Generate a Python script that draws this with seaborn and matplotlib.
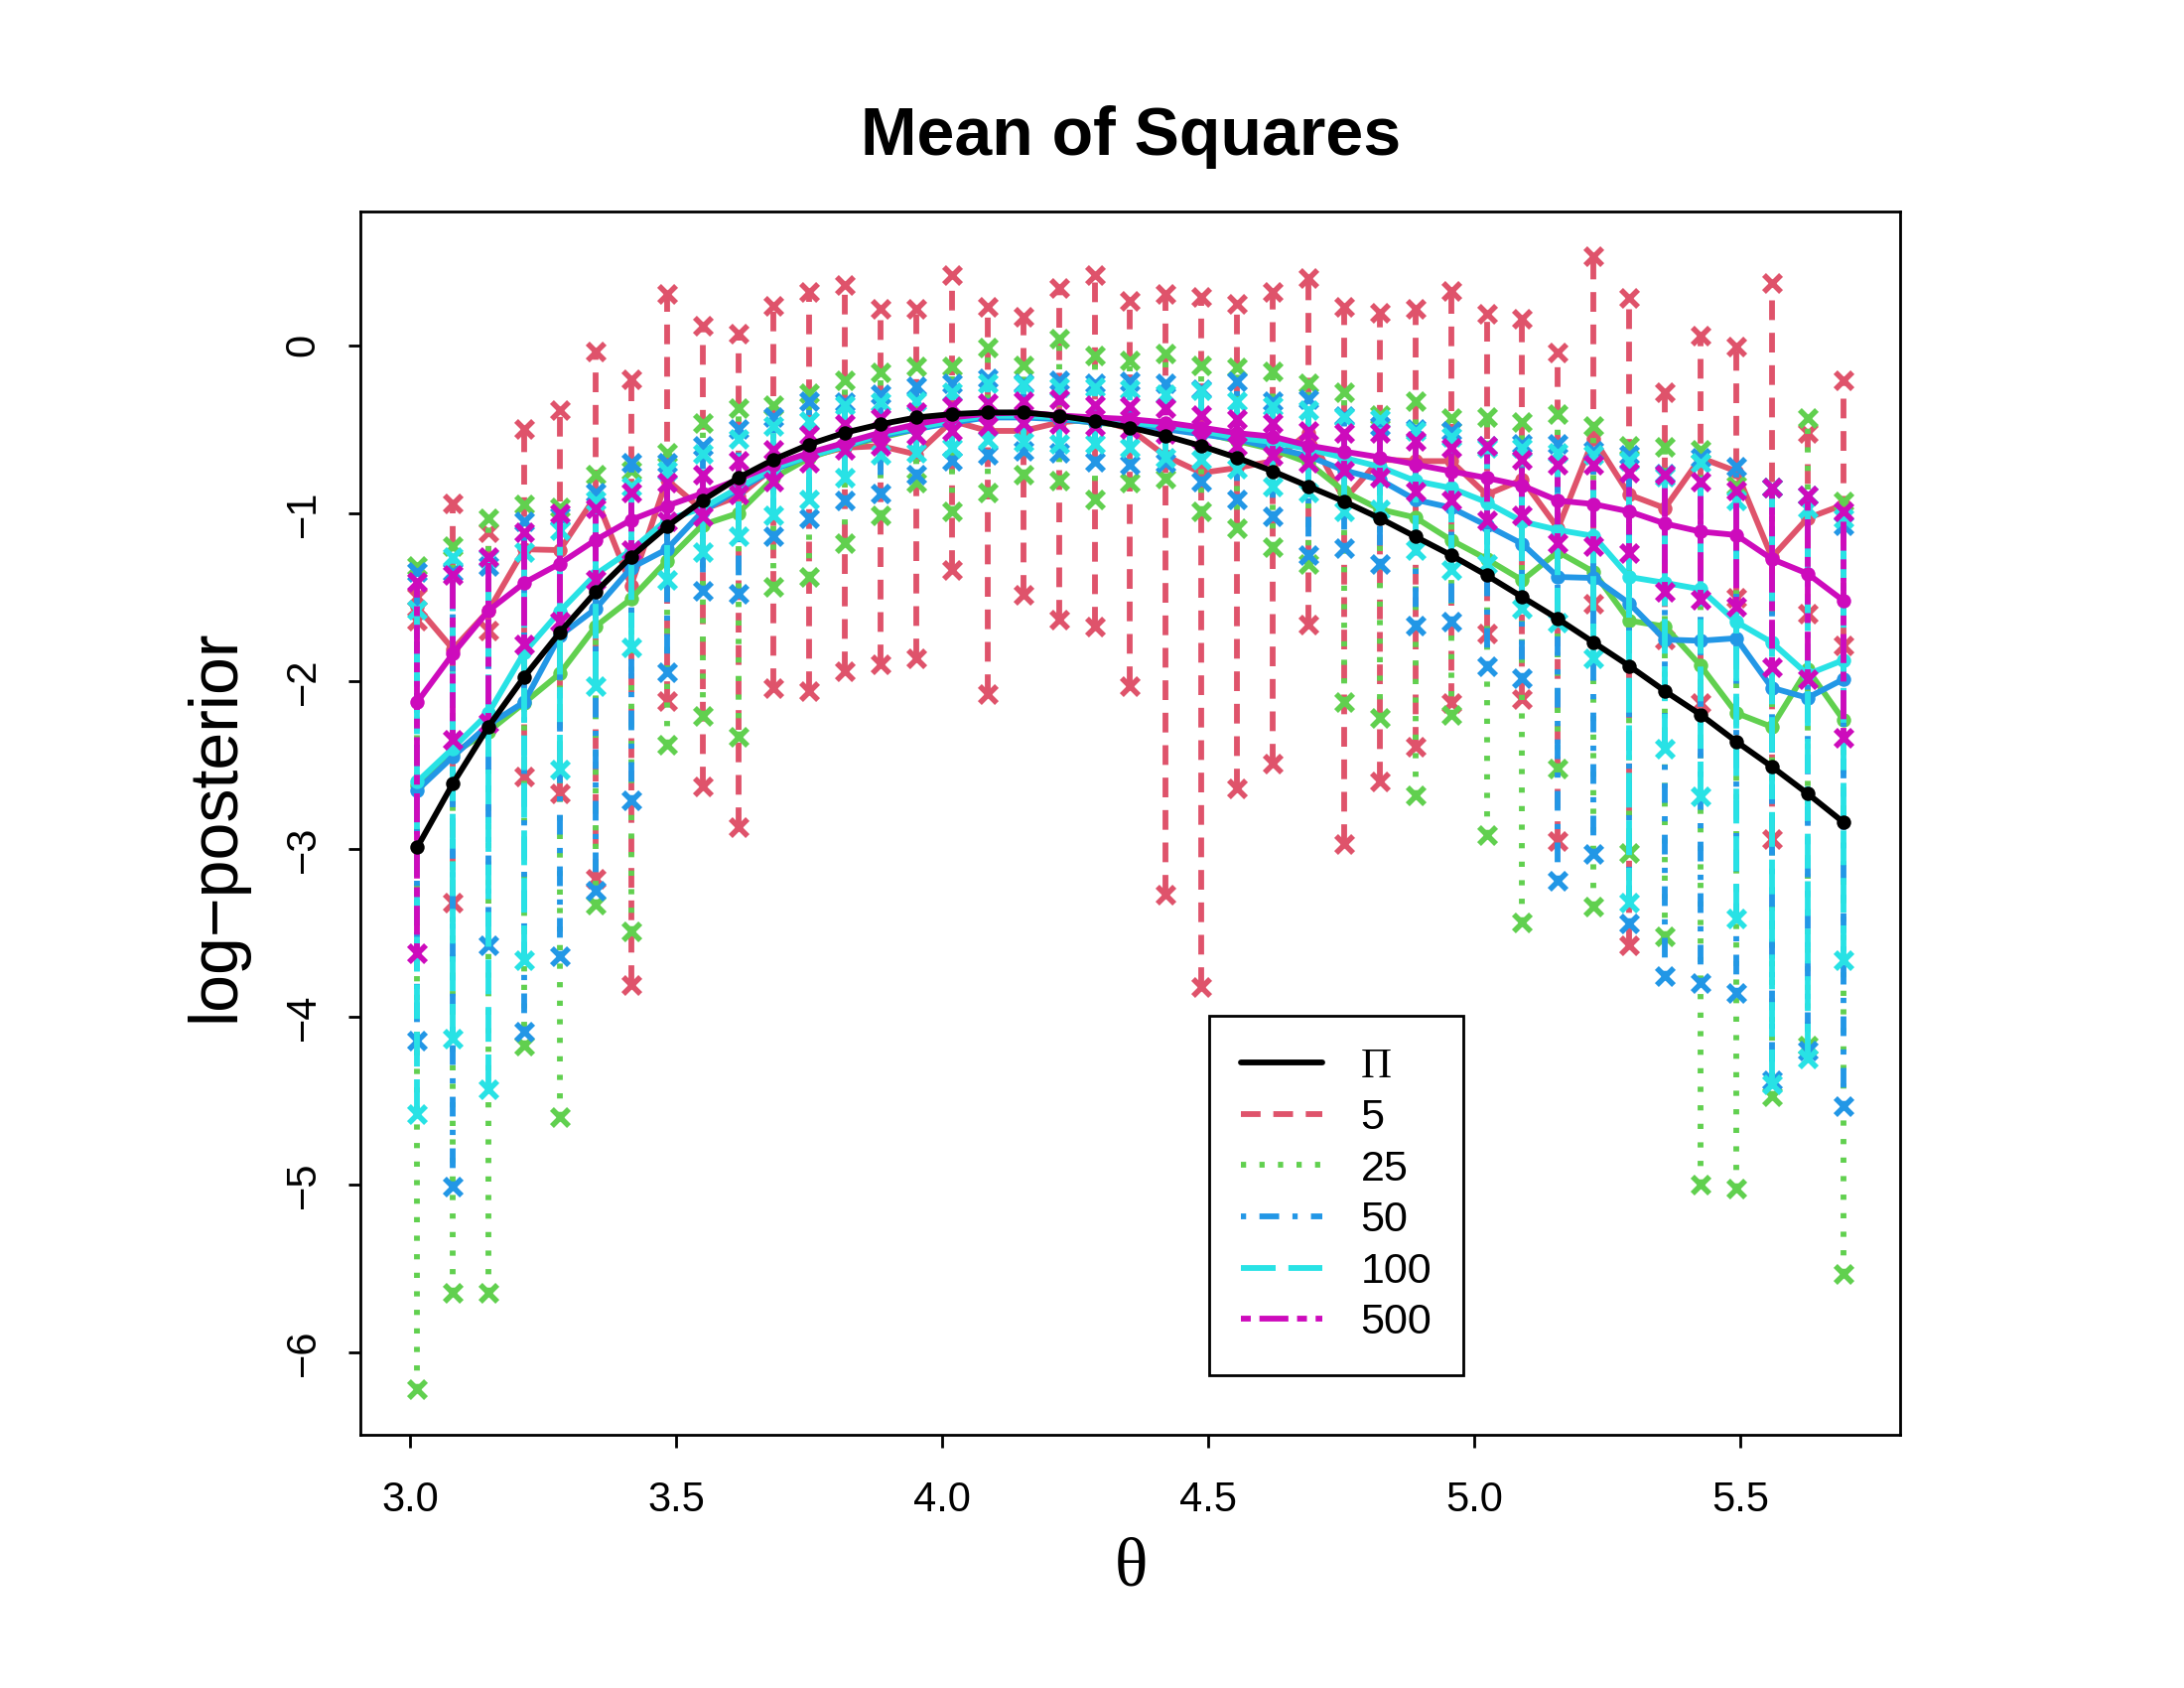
import matplotlib
matplotlib.use("Agg")
import matplotlib.pyplot as plt
from matplotlib.lines import Line2D
import pandas as pd
import seaborn as sns

# grid of theta values
theta = [3.013, 3.080, 3.147, 3.214, 3.281, 3.348, 3.415, 3.482, 3.549, 3.616,
         3.683, 3.750, 3.817, 3.884, 3.951, 4.018, 4.085, 4.152, 4.219, 4.286,
         4.353, 4.420, 4.487, 4.554, 4.621, 4.688, 4.755, 4.822, 4.889, 4.956,
         5.023, 5.090, 5.157, 5.224, 5.291, 5.358, 5.425, 5.492, 5.559, 5.626, 5.693]

# exact log-posterior
pi_mean = [-2.99, -2.61, -2.27, -1.975, -1.71, -1.47, -1.26, -1.08, -0.925, -0.79,
           -0.68, -0.59, -0.52, -0.47, -0.43, -0.41, -0.40, -0.40, -0.42, -0.45,
           -0.49, -0.54, -0.60, -0.67, -0.75, -0.84, -0.93, -1.03, -1.14, -1.25,
           -1.37, -1.50, -1.63, -1.77, -1.91, -2.06, -2.20, -2.36, -2.51, -2.67, -2.84]

# n = 5
mean_5 = [-1.56, -1.81, -1.58, -1.215, -1.22, -0.90, -1.43, -0.80, -0.98, -0.90,
          -0.73, -0.66, -0.61, -0.60, -0.65, -0.45, -0.51, -0.51, -0.46, -0.44,
          -0.50, -0.66, -0.76, -0.73, -0.69, -0.52, -0.92, -0.68, -0.69, -0.69,
          -0.89, -0.80, -1.09, -0.555, -0.89, -0.97, -0.67, -0.75, -1.263, -1.03, -0.95]
max_5 = [-1.50, -0.94, -1.115, -0.50, -0.386, -0.037, -0.203, 0.305, 0.115, 0.072,
         0.237, 0.32, 0.36, 0.22, 0.216, 0.417, 0.227, 0.17, 0.339, 0.417,
         0.263, 0.305, 0.29, 0.248, 0.32, 0.40, 0.227, 0.195, 0.216, 0.326,
         0.185, 0.157, -0.04, 0.533, 0.28, -0.28, 0.058, -0.006, 0.37, -0.52, -0.206]
min_5 = [-1.64, -3.32, -1.70, -2.57, -2.67, -3.18, -3.81, -2.12, -2.63, -2.87,
         -2.045, -2.06, -1.94, -1.90, -1.865, -1.337, -2.077, -1.484, -1.633, -1.675,
         -2.03, -3.27, -3.82, -2.64, -2.49, -1.665, -2.97, -2.60, -2.39, -2.13,
         -1.717, -2.11, -2.955, -1.54, -3.575, -1.75, -2.13, -1.505, -2.94, -1.60, -1.79]

# n = 25
mean_25 = [-2.62, -2.43, -2.30, -2.13, -1.955, -1.675, -1.51, -1.284, -1.07, -1.00,
           -0.79, -0.67, -0.60, -0.55, -0.50, -0.45, -0.42, -0.42, -0.44, -0.46,
           -0.48, -0.49, -0.52, -0.57, -0.62, -0.70, -0.87, -0.977, -1.026, -1.16,
           -1.273, -1.40, -1.23, -1.35, -1.64, -1.675, -1.908, -2.19, -2.273, -1.93, -2.23]
max_25 = [-1.316, -1.195, -1.03, -0.946, -0.967, -0.772, -0.745, -0.64, -0.465, -0.375,
          -0.355, -0.287, -0.206, -0.16, -0.126, -0.126, -0.016, -0.118, 0.037, -0.059,
          -0.09, -0.048, -0.12, -0.13, -0.153, -0.228, -0.28, -0.418, -0.33, -0.435,
          -0.428, -0.456, -0.407, -0.478, -0.60, -0.604, -0.625, -0.836, -0.85, -0.435, -0.93]
min_25 = [-6.22, -5.645, -5.645, -4.17, -4.60, -3.33, -3.49, -2.38, -2.21, -2.33,
          -1.44, -1.38, -1.18, -1.013, -0.815, -0.99, -0.878, -0.773, -0.808, -0.92,
          -0.82, -0.793, -0.99, -1.09, -1.20, -1.305, -2.125, -2.22, -2.68, -2.20,
          -2.92, -3.44, -2.52, -3.345, -3.025, -3.52, -5.00, -5.025, -4.475, -4.17, -5.53]

# n = 50
mean_50 = [-2.65, -2.45, -2.26, -2.125, -1.73, -1.57, -1.326, -1.215, -0.99, -0.86,
           -0.74, -0.66, -0.60, -0.54, -0.50, -0.46, -0.43, -0.43, -0.44, -0.46,
           -0.47, -0.50, -0.53, -0.56, -0.61, -0.66, -0.745, -0.80, -0.92, -0.967,
           -1.073, -1.183, -1.38, -1.386, -1.537, -1.753, -1.76, -1.745, -2.04, -2.10, -1.99]
max_50 = [-1.35, -1.35, -1.315, -1.05, -1.02, -0.878, -0.70, -0.70, -0.60, -0.50,
          -0.43, -0.333, -0.34, -0.29, -0.245, -0.228, -0.196, -0.225, -0.207, -0.228,
          -0.217, -0.228, -0.26, -0.217, -0.333, -0.322, -0.42, -0.48, -0.50, -0.513,
          -0.60, -0.586, -0.586, -0.63, -0.65, -0.766, -0.67, -0.724, -0.85, -0.893, -1.07]
min_50 = [-4.14, -5.01, -3.575, -4.09, -3.64, -3.25, -2.71, -1.95, -1.465, -1.48,
          -1.136, -1.03, -0.925, -0.88, -0.77, -0.69, -0.655, -0.63, -0.64, -0.693,
          -0.713, -0.70, -0.81, -0.92, -1.02, -1.25, -1.21, -1.305, -1.67, -1.643,
          -1.914, -1.98, -3.19, -3.03, -3.445, -3.757, -3.80, -3.855, -4.38, -4.20, -4.53]

# n = 100
mean_100 = [-2.60, -2.40, -2.19, -1.83, -1.585, -1.365, -1.22, -1.04, -0.97, -0.85,
            -0.73, -0.66, -0.60, -0.53, -0.49, -0.45, -0.42, -0.42, -0.43, -0.45,
            -0.46, -0.48, -0.51, -0.55, -0.576, -0.618, -0.67, -0.724, -0.808, -0.85,
            -0.935, -1.05, -1.10, -1.136, -1.38, -1.415, -1.453, -1.647, -1.77, -1.96, -1.876]
max_100 = [-1.575, -1.263, -1.27, -1.23, -1.10, -0.925, -0.84, -0.745, -0.645, -0.56,
           -0.48, -0.45, -0.355, -0.34, -0.333, -0.28, -0.228, -0.23, -0.25, -0.25,
           -0.26, -0.29, -0.265, -0.33, -0.365, -0.386, -0.43, -0.44, -0.513, -0.545,
           -0.61, -0.61, -0.64, -0.655, -0.69, -0.78, -0.70, -0.925, -0.85, -0.97, -1.03]
min_100 = [-4.58, -4.13, -4.43, -3.66, -2.53, -2.03, -1.80, -1.40, -1.23, -1.135,
           -1.01, -0.92, -0.79, -0.65, -0.64, -0.61, -0.562, -0.576, -0.587, -0.587,
           -0.61, -0.67, -0.68, -0.735, -0.84, -0.878, -0.99, -0.98, -1.22, -1.337,
           -1.30, -1.57, -1.653, -1.865, -3.32, -2.405, -2.685, -3.415, -4.405, -4.25, -3.66]

# n = 500
mean_500 = [-2.125, -1.837, -1.58, -1.415, -1.30, -1.16, -1.04, -0.957, -0.882, -0.80,
            -0.71, -0.64, -0.58, -0.52, -0.47, -0.43, -0.407, -0.40, -0.418, -0.43,
            -0.44, -0.46, -0.49, -0.523, -0.544, -0.597, -0.633, -0.667, -0.71, -0.75,
            -0.79, -0.836, -0.925, -0.946, -0.99, -1.062, -1.11, -1.13, -1.273, -1.36, -1.52]
max_500 = [-1.41, -1.365, -1.263, -1.115, -1.00, -0.971, -0.878, -0.82, -0.772, -0.688,
           -0.625, -0.534, -0.47, -0.435, -0.40, -0.365, -0.344, -0.333, -0.322, -0.354,
           -0.365, -0.375, -0.417, -0.44, -0.46, -0.513, -0.52, -0.523, -0.57, -0.608,
           -0.60, -0.682, -0.713, -0.713, -0.76, -0.77, -0.81, -0.866, -0.85, -0.893, -0.988]
min_500 = [-3.62, -2.35, -2.25, -1.78, -1.645, -1.40, -1.22, -1.05, -1.02, -0.887,
           -0.81, -0.70, -0.625, -0.60, -0.534, -0.51, -0.48, -0.46, -0.47, -0.48,
           -0.50, -0.53, -0.56, -0.60, -0.66, -0.70, -0.745, -0.787, -0.872, -0.925,
           -1.04, -1.01, -1.18, -1.196, -1.237, -1.47, -1.516, -1.56, -1.92, -1.99, -2.34]

series = ["5", "25", "50", "100", "500"]
means = {"5": mean_5, "25": mean_25, "50": mean_50, "100": mean_100, "500": mean_500}
highs = {"5": max_5, "25": max_25, "50": max_50, "100": max_100, "500": max_500}
lows = {"5": min_5, "25": min_25, "50": min_50, "100": min_100, "500": min_500}

# R default palette colours and line types
colors = {"5": "#DF536B", "25": "#61D04F", "50": "#2297E6", "100": "#28E2E5", "500": "#CD0BBC"}
dashes = {"5": (3.4, 2.2), "25": (0.9, 2.3), "50": (0.9, 2.3, 3.4, 2.3),
          "100": (6, 2.2), "500": (1.7, 1.5, 5.0, 1.5)}

sns.set_theme(style="ticks")
plt.rcParams["font.family"] = ["Liberation Sans", "DejaVu Sans"]
plt.rcParams["axes.unicode_minus"] = True
plt.rcParams["text.color"] = "black"
plt.rcParams["xtick.color"] = "black"
plt.rcParams["ytick.color"] = "black"
plt.rcParams["xtick.labelcolor"] = "black"
plt.rcParams["ytick.labelcolor"] = "black"

fig = plt.figure(figsize=(11, 8.5), dpi=200)
ax = fig.add_axes([0.165, 0.150, 0.705, 0.725])

lw = 2.1
z = 2
for s in series:
    df = pd.DataFrame({"theta": theta, "mean": means[s], "hi": highs[s], "lo": lows[s]})
    c = colors[s]
    ax.vlines(df["theta"], df["lo"], df["hi"], colors=c, linewidth=lw,
              linestyles=[(0, dashes[s])], zorder=z)
    ends = pd.concat([df[["theta", "hi"]].rename(columns={"hi": "v"}),
                      df[["theta", "lo"]].rename(columns={"lo": "v"})])
    sns.scatterplot(data=ends, x="theta", y="v", ax=ax, marker="x", color=c,
                    s=38, linewidth=2.0, zorder=z + 1, legend=False)
    sns.lineplot(data=df, x="theta", y="mean", ax=ax, color=c, linewidth=lw,
                 marker="o", markersize=5.2, markeredgewidth=0, estimator=None,
                 sort=False, zorder=z + 2, legend=False)
    z += 3

sns.lineplot(x=theta, y=pi_mean, ax=ax, color="black", linewidth=lw, marker="o",
             markersize=5.2, markeredgewidth=0, estimator=None, sort=False,
             zorder=z, legend=False)

ax.set_xlim(2.906, 5.80)
ax.set_ylim(-6.49, 0.80)
ax.set_xticks([3.0, 3.5, 4.0, 4.5, 5.0, 5.5])
ax.set_xticklabels(["3.0", "3.5", "4.0", "4.5", "5.0", "5.5"])
ax.set_yticks([-6, -5, -4, -3, -2, -1, 0])
ax.set_xlabel("")
ax.set_ylabel("")
ax.tick_params(direction="out", length=4.5, width=1.0, labelsize=15, color="black")
ax.tick_params(axis="x", pad=12)
ax.tick_params(axis="y", pad=9)
plt.setp(ax.get_yticklabels(), rotation=90, va="center")
for sp in ax.spines.values():
    sp.set_visible(True)
    sp.set_color("black")
    sp.set_linewidth(1.0)

fig.text(0.5177, 0.919, "Mean of Squares", fontsize=24.5, fontweight="bold",
         ha="center", va="center", color="black")
fig.text(0.0986, 0.511, "log\u2212posterior", fontsize=24.5, rotation=90,
         ha="center", va="center", color="black")
fig.text(0.5177, 0.071, "\u03b8", fontsize=25, ha="center", va="center",
         family=["Liberation Serif", "DejaVu Serif"], color="black")

handles = [Line2D([], [], color="black", linewidth=lw)]
for s in series:
    handles.append(Line2D([], [], color=colors[s], linewidth=lw, dashes=dashes[s]))
labels = ["\u03a0"] + series
leg = ax.legend(handles, labels, loc="upper left", bbox_to_anchor=(0.551, 0.3425),
                fontsize=15.5, frameon=True, fancybox=False, framealpha=1,
                edgecolor="black", borderpad=0.75, labelspacing=0.27,
                handlelength=1.9, handletextpad=0.9, borderaxespad=0)
leg.get_frame().set_linewidth(1.0)
leg.set_zorder(50)
for t in leg.get_texts():
    t.set_color("black")
leg.get_texts()[0].set_family(["Liberation Serif", "DejaVu Serif"])

fig.savefig("out.png", dpi=200, facecolor="white")
